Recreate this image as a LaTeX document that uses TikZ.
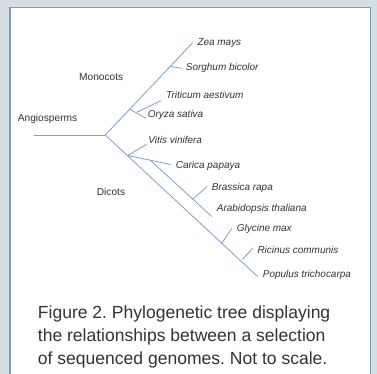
\documentclass[tikz,border=0pt]{standalone}
\usepackage{fontspec}
\setmainfont{Liberation Sans}
\frenchspacing
\begin{document}
\begin{tikzpicture}[x=1bp,y=-1bp,
  branch/.style={draw=treeblue,line width=0.8bp},
  taxon/.style={font=\fontsize{10}{12}\selectfont\itshape,text=txtgrey,anchor=west,inner sep=0pt},
  group/.style={font=\fontsize{10.2}{12}\selectfont,text=txtgrey,anchor=west,inner sep=0pt},
  caption/.style={font=\fontsize{17.6}{23.3}\selectfont,text=txtgrey,anchor=north west,inner sep=0pt,align=left}]
\definecolor{treeblue}{HTML}{7F9FC8}
\definecolor{txtgrey}{HTML}{333333}
\definecolor{bggrey}{HTML}{D5DEE3}
\definecolor{panelborder}{HTML}{7C99BF}
\useasboundingbox (0,0) rectangle (377,374);
\fill[bggrey] (0,0) rectangle (377,374);
\fill[white] (10,7.5) rectangle (370.5,380);
\draw[panelborder,line width=1.3bp] (10,380) -- (10,7.5) -- (370.5,7.5) -- (370.5,380);
% coordinates
\coordinate (start) at (34.3,135);
\coordinate (root) at (105.3,135);
\coordinate (zea) at (192.7,42.7);
\coordinate (mono) at (130,109.3);
\coordinate (sorgn) at (170.7,66.4);
\coordinate (sorg) at (181.7,68.3);
\coordinate (to) at (136.7,112.3);
\coordinate (trit) at (161,100.7);
\coordinate (oryz) at (146,118.3);
\coordinate (dic) at (127.7,155.5);
\coordinate (vitis) at (146.7,144.3);
\coordinate (carica) at (170.7,164.5);
\coordinate (ban) at (150.7,160.6);
\coordinate (arab) at (211.7,216.5);
\coordinate (brn) at (192.7,199.2);
\coordinate (bras) at (207,186.5);
\coordinate (glyn) at (221.7,243.4);
\coordinate (gly) at (232,228.3);
\coordinate (ricn) at (242.5,259.3);
\coordinate (ric) at (252.7,248.3);
\coordinate (pop) at (257.5,276.5);
% branches
\draw[branch] (start) -- (root);
\draw[branch] (root) -- (zea);
\draw[branch] (sorgn) -- (sorg);
\draw[branch] (mono) -- (oryz);
\draw[branch] (to) -- (trit);
\draw[branch] (root) -- (pop);
\draw[branch] (dic) -- (vitis);
\draw[branch] (dic) -- (carica);
\draw[branch] (ban) -- (arab);
\draw[branch] (brn) -- (bras);
\draw[branch] (glyn) -- (gly);
\draw[branch] (ricn) -- (ric);
% labels
\node[taxon] (lzea) at (197.3,43.3) {Zea mays};
\node[taxon] (lsorg) at (185.7,68.3) {Sorghum bicolor};
\node[taxon] (ltrit) at (166,94.7) {Triticum aestivum};
\node[taxon] (loryz) at (147.7,114.7) {Oryza sativa};
\node[taxon] (lvitis) at (148.3,140.3) {Vitis vinifera};
\node[taxon] (lcar) at (175.7,165.7) {Carica papaya};
\node[taxon] (lbras) at (211.7,187.7) {Brassica rapa};
\node[taxon] (larab) at (216.7,208.7) {Arabidopsis thaliana};
\node[taxon] (lgly) at (236.7,228.7) {Glycine max};
\node[taxon] (lric) at (257.3,249.7) {Ricinus communis};
\node[taxon] (lpop) at (262.7,275.3) {Populus trichocarpa};
\node[group] (lmono) at (79,76.7) {Monocots};
\node[group] (lang) at (17.7,119.3) {Angiosperms};
\node[group] (ldic) at (96.7,192.3) {Dicots};
\node[caption] (cap) at (37.7,305.5) {Figure 2. Phylogenetic tree displaying\\the relationships between a selection\\of sequenced genomes. Not to scale.};
\end{tikzpicture}
\end{document}
